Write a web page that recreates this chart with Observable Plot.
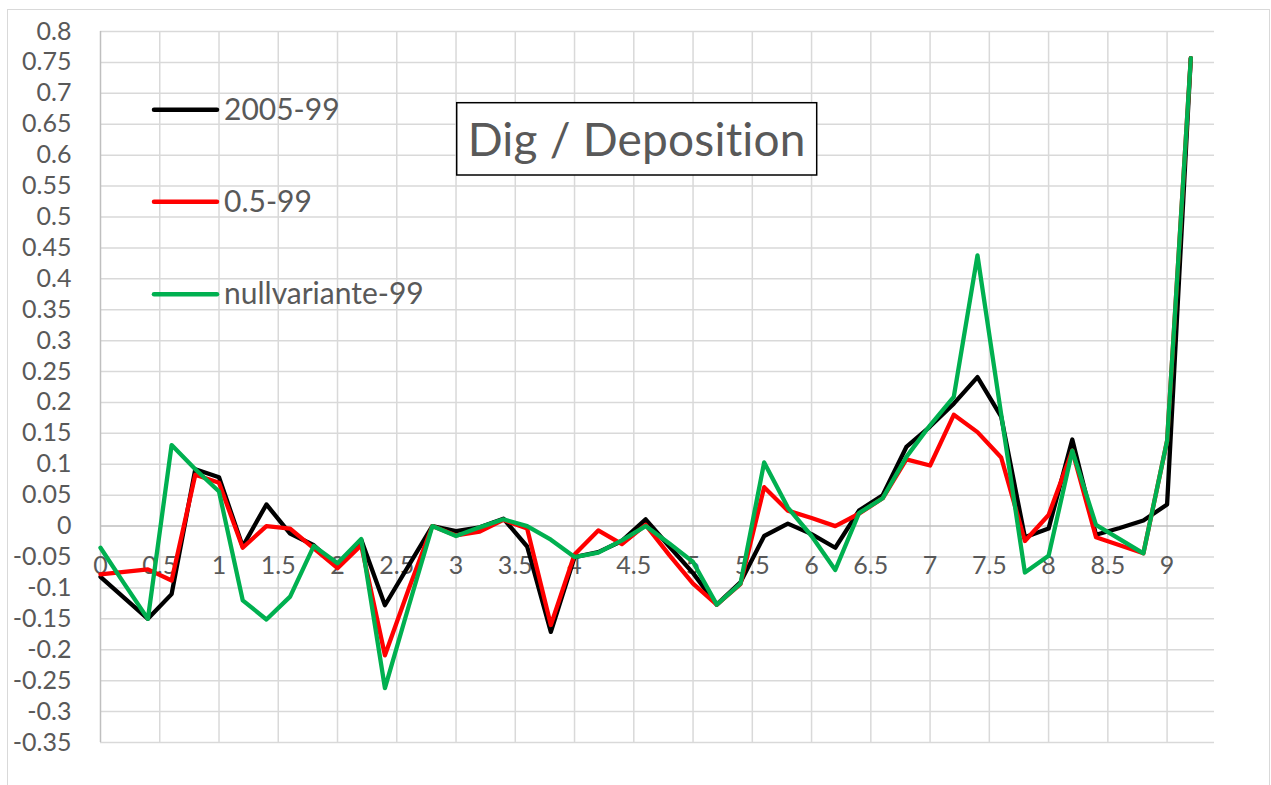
<!DOCTYPE html>
<html><head><meta charset="utf-8">
<script src="https://cdn.jsdelivr.net/npm/d3@7"></script>
<script src="https://cdn.jsdelivr.net/npm/@observablehq/plot@0.6"></script>
<style>
html,body{margin:0;padding:0;background:#fff;overflow:hidden;}
#wrap{position:relative;width:1271px;height:785px;overflow:hidden;background:#fff;}
#frame{position:absolute;left:7px;top:9px;width:1263px;height:830px;border:1.5px solid #d9d9d9;box-sizing:border-box;}
#chart{position:absolute;left:0;top:0;}
#overlay{position:absolute;left:0;top:0;pointer-events:none;}
svg text{font-variant-ligatures:none;font-feature-settings:"liga" 0, "clig" 0, "dlig" 0;}
</style></head><body>
<div id="wrap"><div id="frame"></div><div id="chart"></div></div>
<script>
// ---- data ----
const xValues = [0, 0.2, 0.4, 0.6, 0.8, 1.0, 1.2, 1.4, 1.6, 1.8, 2.0, 2.2, 2.4, 2.6, 2.8, 3.0, 3.2, 3.4, 3.6, 3.8,
  4.0, 4.2, 4.4, 4.6, 4.8, 5.0, 5.2, 5.4, 5.6, 5.8, 6.0, 6.2, 6.4, 6.6, 6.8, 7.0, 7.2, 7.4, 7.6, 7.8,
  8.0, 8.2, 8.4, 8.6, 8.8, 9.0, 9.2];
const series2005 = [-0.082, -0.116, -0.150, -0.110, 0.092, 0.079, -0.033, 0.035, -0.012, -0.031,
  -0.066, -0.022, -0.128, -0.064, 0.000, -0.008, -0.002, 0.012, -0.033, -0.171,
  -0.050, -0.042, -0.024, 0.011, -0.033, -0.076, -0.127, -0.091, -0.016, 0.004,
  -0.013, -0.035, 0.025, 0.050, 0.128, 0.161, 0.198, 0.241, 0.177, -0.018,
  -0.004, 0.140, -0.014, -0.003, 0.009, 0.035, 0.757];
const series05 = [-0.078, -0.074, -0.070, -0.088, 0.083, 0.070, -0.035, 0.000, -0.004, -0.036,
  -0.068, -0.031, -0.209, -0.102, 0.000, -0.015, -0.009, 0.010, -0.004, -0.160,
  -0.046, -0.007, -0.029, 0.002, -0.047, -0.093, -0.127, -0.094, 0.063, 0.025,
  0.013, 0.000, 0.020, 0.045, 0.108, 0.098, 0.180, 0.152, 0.111, -0.024,
  0.018, 0.122, -0.018, -0.031, -0.044, 0.138, 0.757];
const seriesNull = [-0.035, -0.093, -0.150, 0.131, 0.092, 0.056, -0.120, -0.151, -0.114, -0.032,
  -0.060, -0.021, -0.262, -0.130, 0.000, -0.016, -0.002, 0.011, 0.000, -0.022,
  -0.050, -0.043, -0.023, 0.000, -0.028, -0.058, -0.127, -0.093, 0.103, 0.030,
  -0.016, -0.071, 0.021, 0.045, 0.112, 0.163, 0.209, 0.438, 0.181, -0.075,
  -0.048, 0.122, 0.002, -0.021, -0.044, 0.138, 0.757];
const seriesNames = ["2005-99", "0.5-99", "nullvariante-99"];
const seriesColors = ["#000000", "#ff0000", "#00b050"];
const xTicks = [0, 0.5, 1, 1.5, 2, 2.5, 3, 3.5, 4, 4.5, 5, 5.5, 6, 6.5, 7, 7.5, 8, 8.5, 9];
const yTicks = [0.8, 0.75, 0.7, 0.65, 0.6, 0.55, 0.5, 0.45, 0.4, 0.35, 0.3, 0.25, 0.2, 0.15, 0.1, 0.05, 0,
  -0.05, -0.1, -0.15, -0.2, -0.25, -0.3, -0.35];
const chartTitle = "Dig / Deposition";

// ---- build ----
const allSeries = [series2005, series05, seriesNull];
const rows = [];
allSeries.forEach((vals, s) => vals.forEach((v, i) => rows.push({x: xValues[i], y: v, series: seriesNames[s]})));

const W = 1271, H = 785;
const FONT = "Lato, 'Open Sans', sans-serif";
const grey = "#595959";

const chart = Plot.plot({
  width: W, height: H,
  marginLeft: 100, marginRight: 57, marginTop: 31, marginBottom: 43,
  style: {fontFamily: FONT, fontSize: "25px", color: grey, background: "transparent", overflow: "visible"},
  x: {domain: [0, 9.4]},
  y: {domain: [-0.35, 0.8]},
  color: {domain: seriesNames, range: seriesColors},
  marks: [
    Plot.ruleX(xTicks.filter(d => d !== 0), {x: d => d, stroke: "#d9d9d9", strokeWidth: 1.5}),
    Plot.ruleY(yTicks.filter(d => d !== 0), {y: d => d, stroke: "#d9d9d9", strokeWidth: 1.5}),
    Plot.ruleX([0], {stroke: "#bfbfbf", strokeWidth: 1.5}),
    Plot.ruleY([0], {stroke: "#bfbfbf", strokeWidth: 1.5}),
    Plot.axisY({ticks: yTicks, tickSize: 0, tickPadding: 29, tickFormat: d => String(d), fill: grey, fontSize: 25, label: null}),
    Plot.axisX({ticks: [], label: null}),
    Plot.text(xTicks, {x: d => d, y: () => 0, text: d => String(d), dy: 40, fill: grey, fontSize: 25, textAnchor: "middle"}),
    Plot.line(rows, {x: "x", y: "y", z: "series", stroke: "series", strokeWidth: 4.3, strokeLinejoin: "round", strokeLinecap: "round"})
  ]
});
document.getElementById("chart").appendChild(chart);

// ---- overlay: legend + title box ----
const svg = d3.select("#wrap").append("svg").attr("id", "overlay").attr("width", W).attr("height", H);
const legendY = [109.7, 201.7, 294.3];
seriesNames.forEach((name, i) => {
  svg.append("line").attr("x1", 154).attr("x2", 217).attr("y1", legendY[i]).attr("y2", legendY[i])
    .attr("stroke", seriesColors[i]).attr("stroke-width", 4.5).attr("stroke-linecap", "round");
  svg.append("text").attr("x", 224).attr("y", legendY[i] + 10).text(name)
    .attr("font-family", FONT).attr("font-size", 30).attr("fill", grey);
});
svg.append("rect").attr("x", 456.7).attr("y", 102.7).attr("width", 360).attr("height", 72.3)
  .attr("fill", "#fff").attr("stroke", "#000").attr("stroke-width", 1.5);
svg.append("text").attr("x", 636.7).attr("y", 155.7).attr("text-anchor", "middle").text(chartTitle)
  .attr("font-family", FONT).attr("font-size", 46).attr("letter-spacing", "0.2px")
  .style("font-variant-ligatures", "none").attr("fill", grey);
</script>
</body></html>
